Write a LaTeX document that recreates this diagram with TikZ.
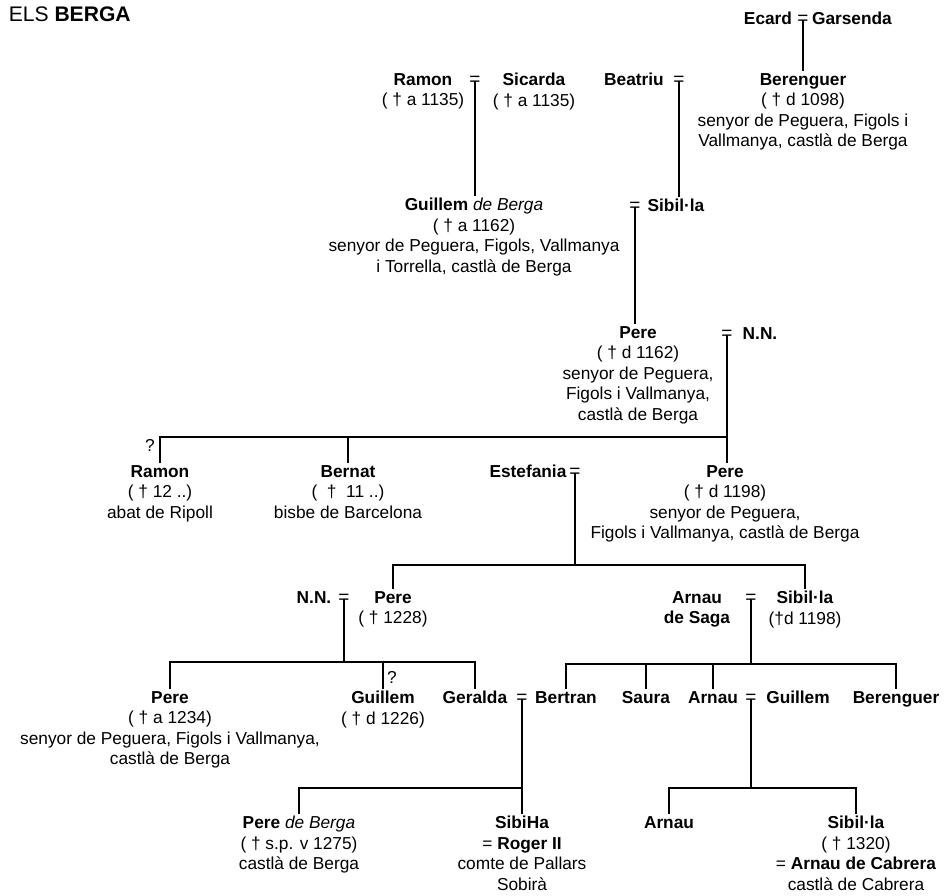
\documentclass[tikz,border=0pt]{standalone}
\usepackage{fontspec}
\setmainfont{Liberation Sans}
\usepackage{tikz}

\newcommand{\famfont}{\fontsize{12.3}{14.6}\selectfont}
\tikzset{
  pers/.style={inner sep=1pt, anchor=north, align=center, font=\famfont},
  wed/.style={inner sep=0pt, anchor=base, font=\fontsize{13.5}{15}\selectfont},
  mark q/.style={inner sep=0pt, font=\famfont},
}

\begin{document}
\begin{tikzpicture}[x=0.025cm, y=-0.025cm, line width=1.1pt]
  \useasboundingbox (0,0) rectangle (946,895);
  \node[anchor=west, inner sep=0pt, font=\fontsize{15}{17}\selectfont] (title) at (8,14) {ELS \textbf{BERGA}};

  % first generations
  \node[pers] (ecard) at (768,10) {\textbf{Ecard}};
  \node[wed] (e0) at (803,24) {=};
  \node[pers] (garsenda) at (852,10) {\textbf{Garsenda}};
  \node[pers] (berenguer) at (803,71) {\textbf{Berenguer}\\( † d 1098)\\senyor de Peguera, Figols i\\Vallmanya, castlà de Berga};
  \node[pers] (ramon) at (423,71) {\textbf{Ramon}\\( † a 1135)};
  \node[wed] (m1) at (475,85) {=};
  \node[pers] (sicarda) at (534,71) {\textbf{Sicarda}\\( † a 1135)};
  \node[pers] (beatriu) at (634,71) {\textbf{Beatriu}};
  \node[wed] (m2) at (679,85) {=};
  \node[pers] (guillem) at (474,196) {\textbf{Guillem} \textit{de Berga}\\( † a 1162)\\senyor de Peguera, Figols, Vallmanya\\i Torrella, castlà de Berga};
  \node[wed] (m3) at (635,211) {=};
  \node[pers] (sibila) at (676,197) {\textbf{Sibil·la}};
  \node[pers] (pere) at (638,324) {\textbf{Pere}\\( † d 1162)\\senyor de Peguera,\\Figols i Vallmanya,\\castlà de Berga};
  \node[wed] (m4) at (727,339) {=};
  \node[pers] (nn) at (760,325) {\textbf{N.N.}};

  \draw ([yshift=2.8pt]e0.base) -- (e0 |- berenguer.north);
  \draw ([yshift=2.8pt]m1.base) -- (m1 |- guillem.north);
  \draw ([yshift=2.8pt]m2.base) -- (m2 |- sibila.north);
  \draw ([yshift=2.8pt]m3.base) -- (m3 |- pere.north);

  % children of Pere and N.N.
  \coordinate (bar1) at (727,437);
  \node[pers] (ramon2) at (160,463) {\textbf{Ramon}\\( † 12 ..)\\abat de Ripoll};
  \node[mark q] (q1) at (150,445) {?};
  \node[pers] (bernat) at (348,463) {\textbf{Bernat}\\(\ \ † \ 11 ..)\\bisbe de Barcelona};
  \node[pers] (estefania) at (528,463) {\textbf{Estefania}};
  \node[wed] (m5) at (575,477) {=};
  \node[pers] (pere2) at (725,463) {\textbf{Pere}\\( † d 1198)\\senyor de Peguera,\\Figols i Vallmanya, castlà de Berga};

  \draw ([yshift=2.8pt]m4.base) -- (m4 |- pere2.north);
  \draw (ramon2.north) |- (bar1);
  \draw (bernat.north) -- (bernat.north |- bar1);

  % children of Pere and Estefania
  \coordinate (bar2) at (575,565);
  \node[pers] (nn2) at (314,589) {\textbf{N.N.}};
  \node[wed] (m6) at (344,603) {=};
  \node[pers] (pere3) at (393,589) {\textbf{Pere}\\( † 1228)};
  \node[pers] (arnau) at (697,589) {\textbf{Arnau}\\\textbf{de Saga}};
  \node[wed] (m7) at (751,603) {=};
  \node[pers] (sibila2) at (805,589) {\textbf{Sibil·la}\\(†d 1198)};

  \draw ([yshift=2.8pt]m5.base) -- (bar2);
  \draw (pere3.north) |- (bar2) -| (sibila2.north);

  % grandchildren
  \coordinate (bar3) at (344,662);
  \coordinate (bar4) at (751,664);
  \node[pers] (pere4) at (170,689) {\textbf{Pere}\\( † a 1234)\\senyor de Peguera, Figols i Vallmanya,\\castlà de Berga};
  \node[pers] (guillem2) at (383,689) {\textbf{Guillem}\\( † d 1226)};
  \node[mark q] (q2) at (392,677) {?};
  \node[pers] (geralda) at (475,689) {\textbf{Geralda}};
  \node[wed] (m8) at (522,703) {=};
  \node[pers] (bertran) at (566,689) {\textbf{Bertran}};
  \node[pers] (saura) at (646,689) {\textbf{Saura}};
  \node[pers] (arnau2) at (713,689) {\textbf{Arnau}};
  \node[wed] (m9) at (751,703) {=};
  \node[pers] (guillem3) at (798,689) {\textbf{Guillem}};
  \node[pers] (berenguer2) at (896,689) {\textbf{Berenguer}};

  \draw ([yshift=2.8pt]m6.base) -- (bar3);
  \draw (pere4.north) |- (bar3) -| (geralda.north);
  \draw (guillem2.north) -- (guillem2.north |- bar3);
  \draw ([yshift=2.8pt]m7.base) -- (bar4);
  \draw (bertran.north) |- (bar4) -| (berenguer2.north);
  \draw (saura.north) -- (saura.north |- bar4);
  \draw (arnau2.north) -- (arnau2.north |- bar4);

  % last generation
  \coordinate (bar5) at (522,788);
  \coordinate (bar6) at (751,788);
  \node[pers] (perede) at (299,814) {\textbf{Pere} \textit{de Berga}\\( † s.p. v 1275)\\castlà de Berga};
  \node[pers] (sibiha) at (522,814) {\textbf{SibiHa}\\= \textbf{Roger II}\\comte de Pallars\\Sobirà};
  \node[pers] (arnau3) at (669,814) {\textbf{Arnau}};
  \node[pers] (sibila3) at (856,814) {\textbf{Sibil·la}\\( † 1320)\\= \textbf{Arnau de Cabrera}\\castlà de Cabrera};

  \draw ([yshift=2.8pt]m8.base) -- (m8 |- sibiha.north);
  \draw (perede.north) |- (bar5);
  \draw ([yshift=2.8pt]m9.base) -- (bar6);
  \draw (arnau3.north) |- (bar6) -| (sibila3.north);
\end{tikzpicture}
\end{document}
